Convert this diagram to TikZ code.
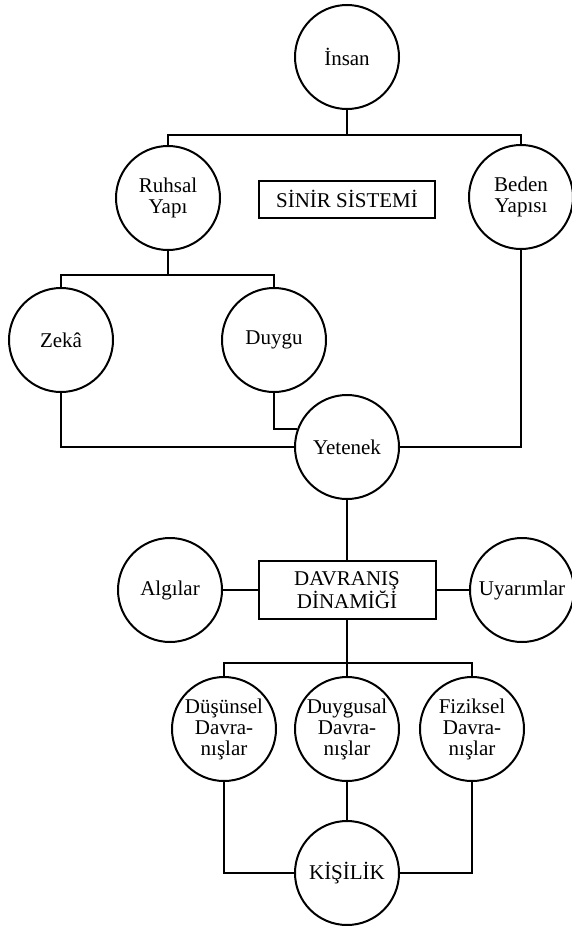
\documentclass[tikz,border=0pt]{standalone}
\usepackage{fontspec}
\setmainfont{Liberation Serif}
\usetikzlibrary{automata, positioning}

\begin{document}
\begin{tikzpicture}[on grid, line width=2pt,
        every state/.style={draw, line width=2pt, minimum size=104pt, inner sep=0pt, align=center, font=\fontsize{21}{21}\selectfont}]
        \useasboundingbox (0,0) rectangle (572pt,-926pt);

        \node[state](insan) at (347pt,-57pt){İnsan};
        \node[state, below left = 141pt and 179pt of insan](ruhsal){Ruhsal\\Yapı};
        \node[state, rectangle, minimum width=176pt, minimum height=37pt, below = 142pt of insan](sinir){SİNİR SİSTEMİ};
        \node[state, below right = 140pt and 174pt of insan](beden){Beden\\Yapısı};

        \node[state, below left = 142pt and 107pt of ruhsal](zeka){Zekâ};
        \node[state, below right = 142pt and 106pt of ruhsal](duygu){Duygu};
        \node[state, below = 390pt of insan](yetenek){Yetenek};

        \node[state, rectangle, minimum width=177pt, minimum height=58pt, below = 143pt of yetenek, font=\fontsize{21}{17}\selectfont](dinamik){DAVRANIŞ\\DİNAMİĞİ};
        \node[state, left = 177pt of dinamik](algilar){Algılar};
        \node[state, right = 175pt of dinamik](uyarimlar){Uyarımlar};

        \node[state, below = 139pt of dinamik](duygusal){Duygusal\\Davra-\\nışlar};
        \node[state, left = 123pt of duygusal](dusunsel){Düşünsel\\Davra-\\nışlar};
        \node[state, right = 125pt of duygusal](fiziksel){Fiziksel\\Davra-\\nışlar};
        \node[state, below = 144pt of duygusal](kisilik){KİŞİLİK};

        \coordinate[below = 78pt of insan](c1);
        \coordinate[below = 77pt of ruhsal](c2);
        \coordinate[below = 73pt of dinamik](c3);

        \draw(insan) -- (c1);
        \draw(ruhsal.north) |- (c1) -| (beden.north);
        \draw(ruhsal) -- (c2);
        \draw(zeka.north) |- (c2) -| (duygu.north);

        \draw(zeka.south) |- (yetenek.west);
        \draw(duygu.south) |- (yetenek.160);
        \draw(beden.south) |- (yetenek.east);

        \draw(yetenek) -- (dinamik);
        \draw(algilar) -- (dinamik);
        \draw(dinamik) -- (uyarimlar);

        \draw(dusunsel.north) |- (c3) -| (fiziksel.north);
        \draw(dinamik) -- (duygusal);
        \draw(duygusal) -- (kisilik);
        \draw(dusunsel.south) |- (kisilik.west);
        \draw(fiziksel.south) |- (kisilik.east);

    \end{tikzpicture}
\end{document}
